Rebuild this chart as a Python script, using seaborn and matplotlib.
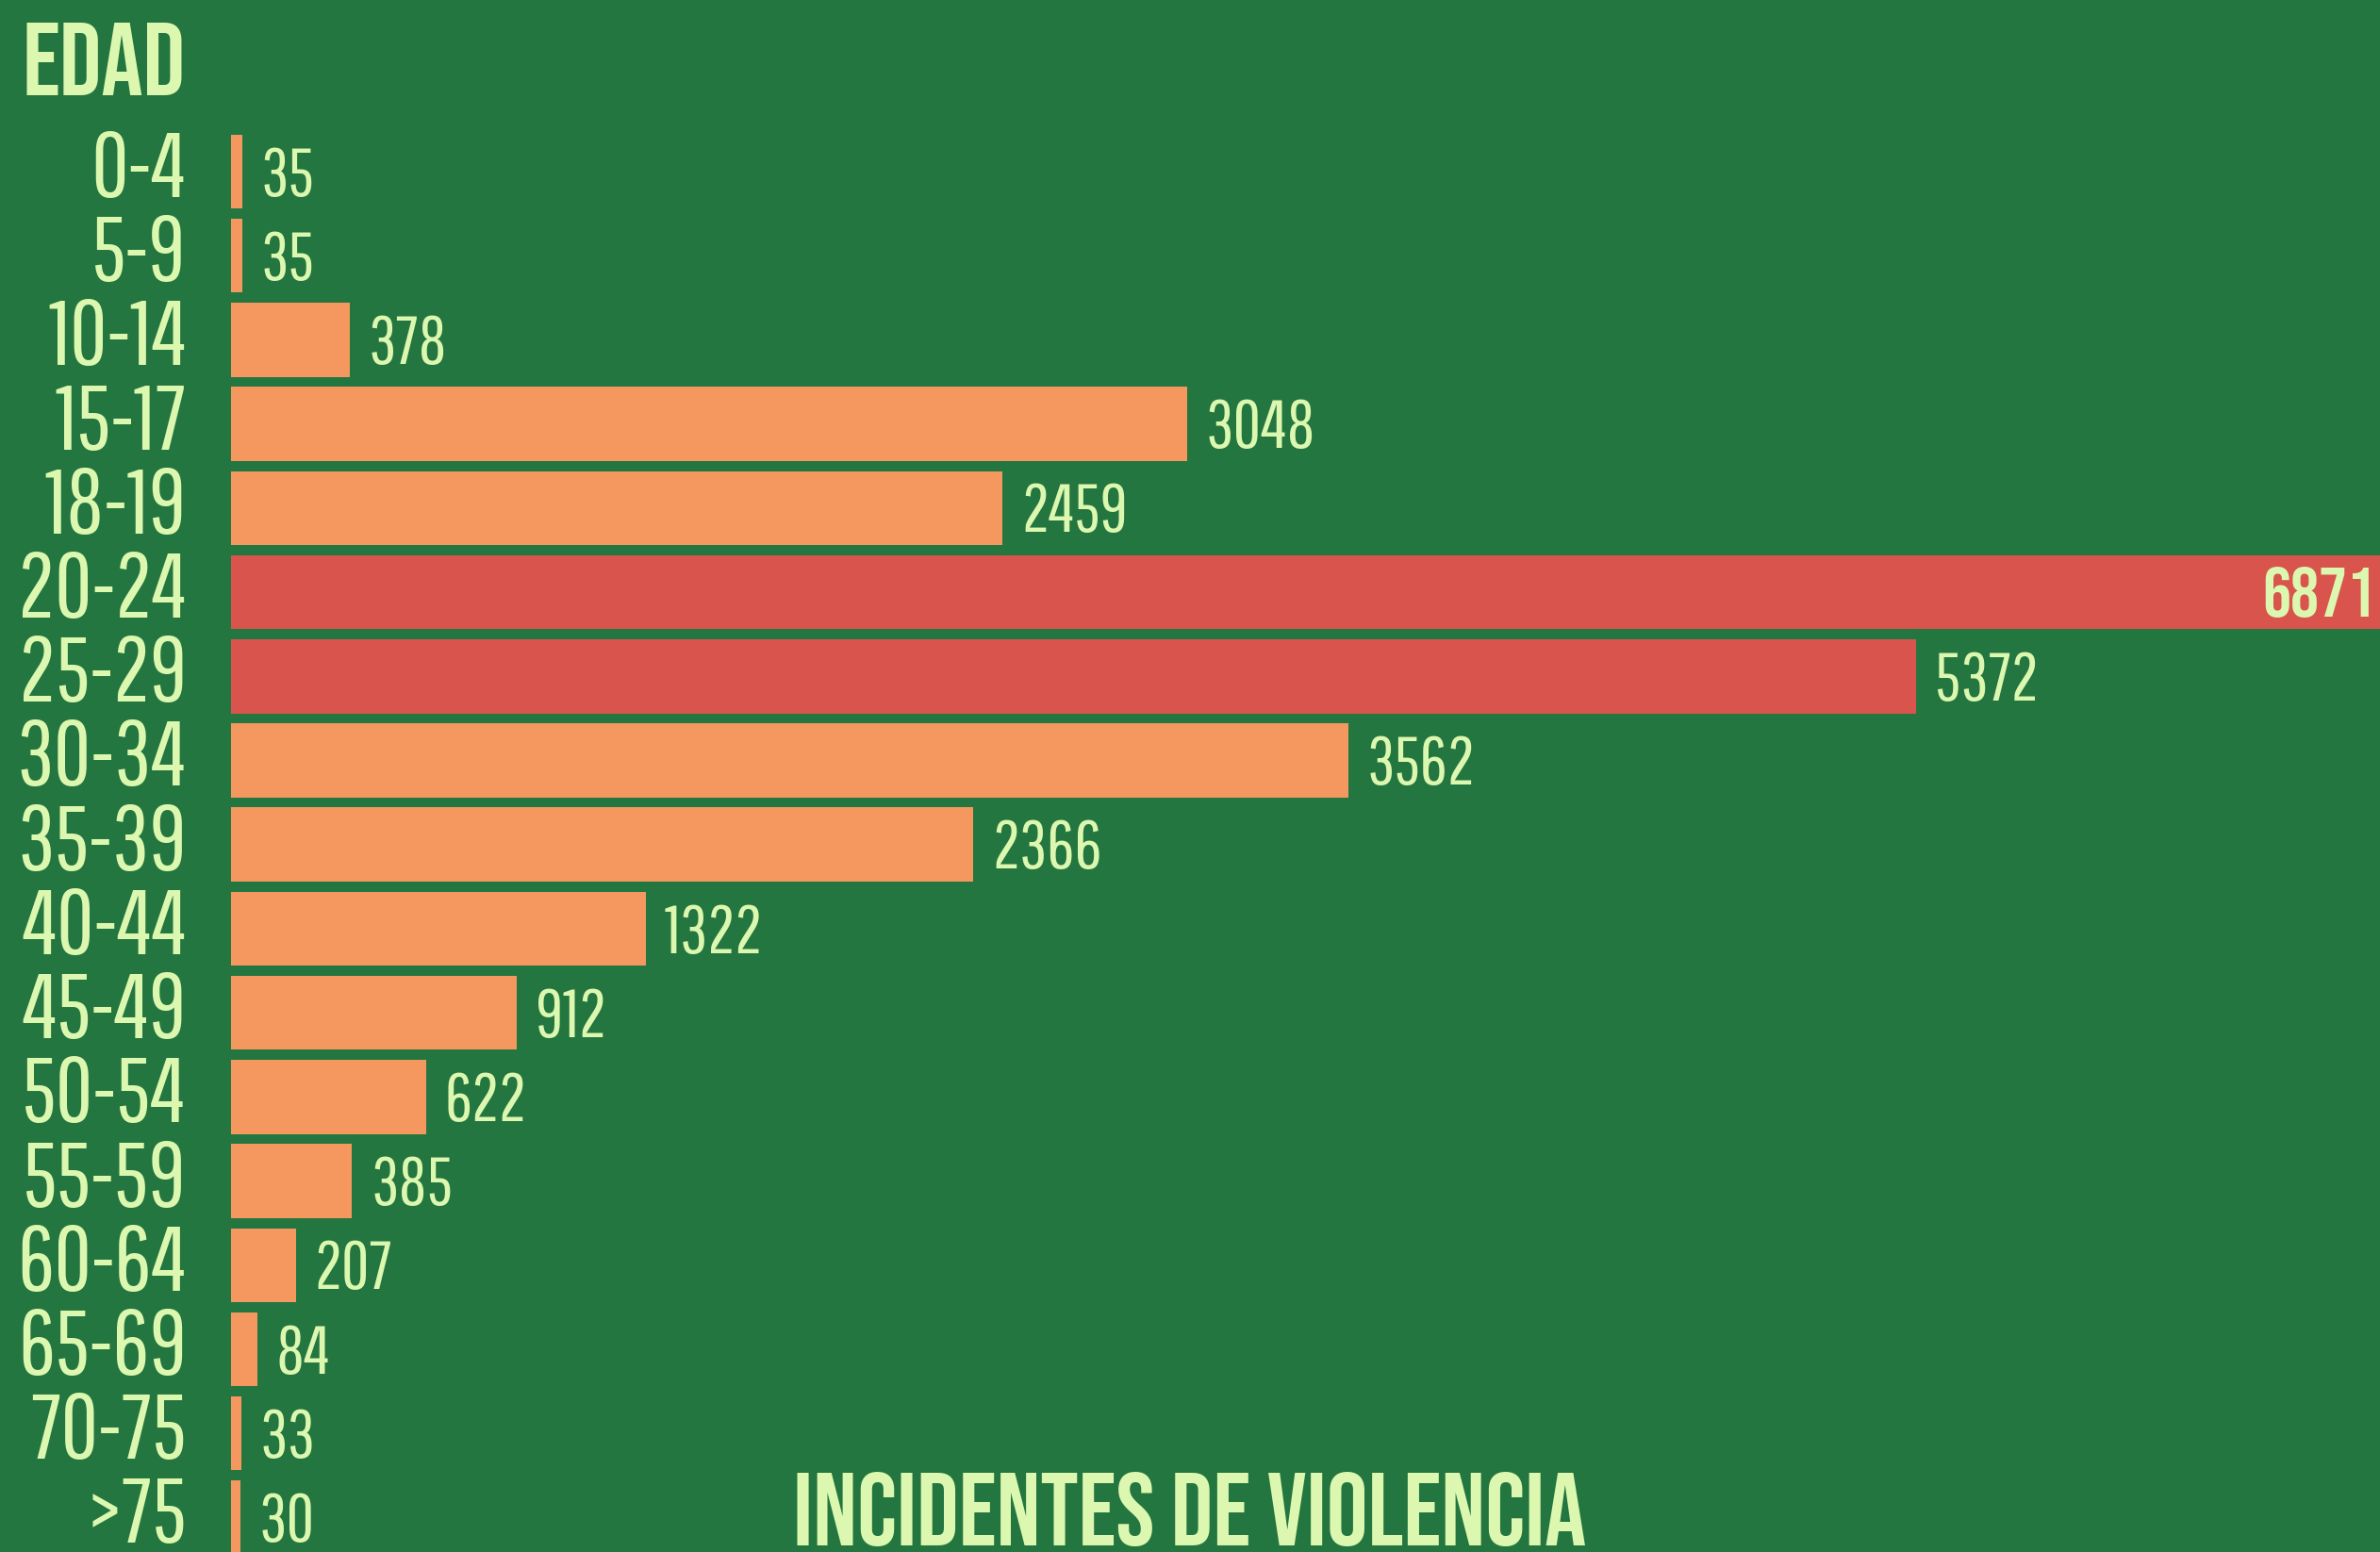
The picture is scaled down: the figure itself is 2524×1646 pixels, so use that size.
import numpy as np
import pandas as pd
import matplotlib
matplotlib.use('Agg')
import matplotlib.pyplot as plt
from matplotlib.transforms import ScaledTranslation
import seaborn as sns

# data
edades = ['0-4', '5-9', '10-14', '15-17', '18-19', '20-24', '25-29', '30-34',
          '35-39', '40-44', '45-49', '50-54', '55-59', '60-64', '65-69',
          '70-75', '>75']
incidentes = [35, 35, 378, 3048, 2459, 6871, 5372, 3562, 2366, 1322, 912,
              622, 385, 207, 84, 33, 30]
destacados = ['20-24', '25-29']

VERDE = '#23763f'
NARANJA = '#f4985f'
ROJO = '#d9544c'
TEXTO = '#dcf7b0'
LIGERA = ['Pathway Gothic One', 'Oswald', 'DejaVu Sans']
GRUESA = ['Bebas Neue', 'Fjalla One', 'Oswald', 'DejaVu Sans']


def main():
    sns.set_theme(style='white')
    plt.rcParams['font.family'] = LIGERA

    df = pd.DataFrame({'edad': edades, 'incidentes': incidentes})
    colores = {e: (ROJO if e in destacados else NARANJA) for e in edades}

    fig = plt.figure(figsize=(25.24, 16.46), dpi=100, facecolor=VERDE)
    ax = fig.add_axes([245 / 2524, 0, 1 - 245 / 2524, 1])
    ax.set_facecolor(VERDE)

    sns.barplot(ax=ax, data=df, x='incidentes', y='edad', hue='edad',
                palette=colores, legend=False, orient='h', width=0.88,
                saturation=1, linewidth=0)

    ax.set_xlim(0, 6850)
    ax.set_ylim(16.41, -2.04)
    ax.set(xlabel='', ylabel='')
    ax.set_xticks([])
    sns.despine(ax=ax, left=True, bottom=True)
    ax.tick_params(axis='y', length=0, pad=34, labelsize=70, labelcolor=TEXTO)
    # labels sit a touch above the bar centres
    subir = ScaledTranslation(0, 9 / 100, fig.dpi_scale_trans)
    for t in ax.get_yticklabels():
        t.set_transform(t.get_transform() + subir)

    tope = max(incidentes)
    for i, v in enumerate(incidentes):
        if v == tope:
            ax.text(6835, i + 0.0, str(v), ha='right', va='center',
                    fontsize=54, family=GRUESA, color=TEXTO)
        else:
            ax.text(v + 60, i + 0.06, str(v), ha='left', va='center',
                    fontsize=52, color=TEXTO)

    fig.text(24 / 2524, 1 - 24 / 1646, 'EDAD', ha='left', va='top',
             fontsize=79, family=GRUESA, color=TEXTO)
    fig.text(0.5, 6 / 1646, 'INCIDENTES DE VIOLENCIA', ha='center',
             va='bottom', fontsize=79, family=GRUESA, color=TEXTO)

    fig.savefig('out.png', dpi=100, facecolor=VERDE)


if __name__ == "__main__":
    main()
